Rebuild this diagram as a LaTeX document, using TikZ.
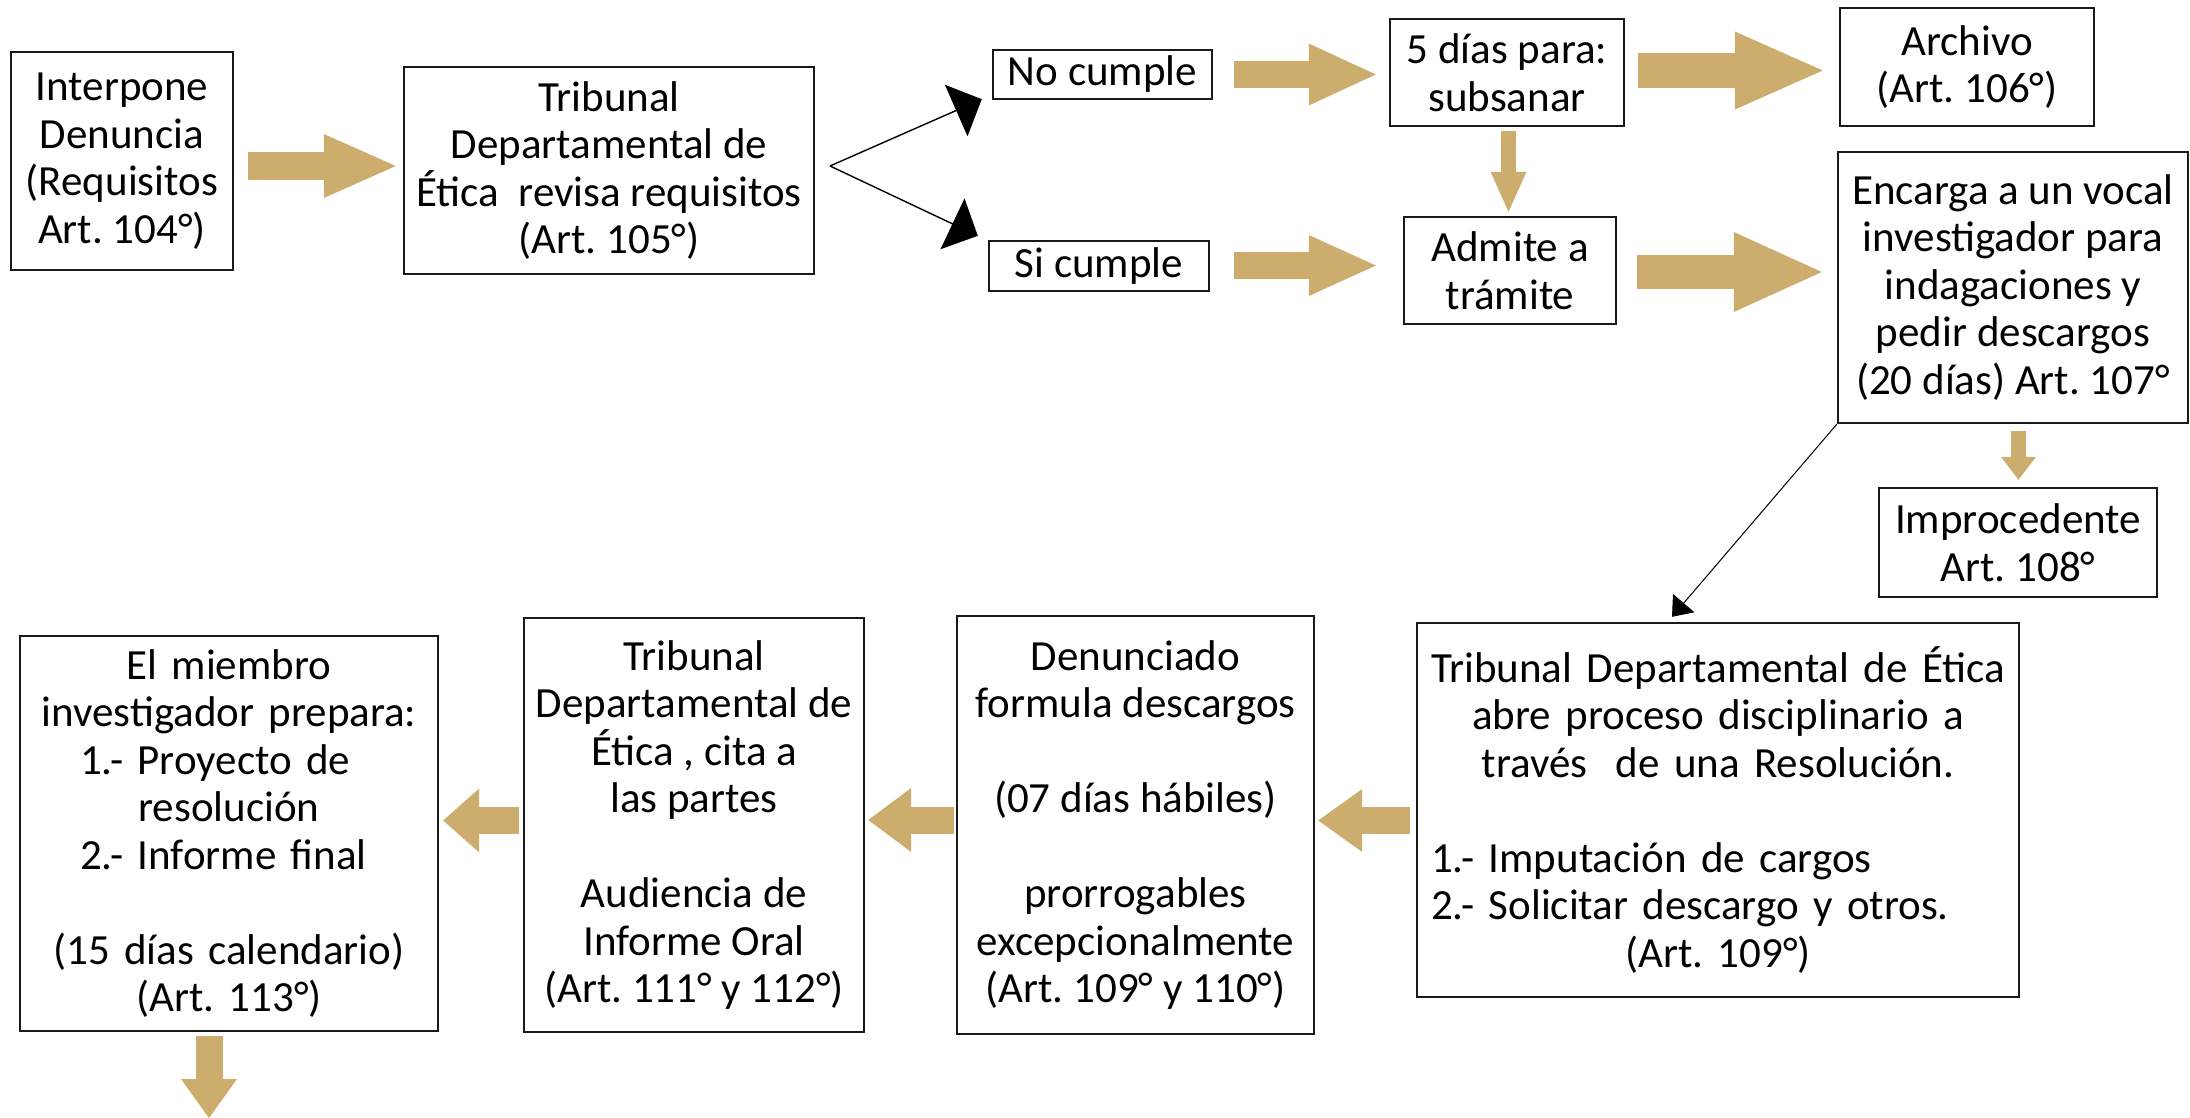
\documentclass[tikz,border=0pt]{standalone}
\usepackage{fontspec}
\setmainfont{Carlito}
\usetikzlibrary{arrows.meta,calc}
\definecolor{oro}{RGB}{205,173,110}
\newcommand{\centro}[1]{\makebox[\linewidth]{#1}}
\tikzset{
  caja/.style={draw=black!90,line width=1.2pt,inner sep=0pt,align=center,
    font=\frenchspacing\fontsize{21.5}{23.75}\selectfont},
  flecha/.style={-{Triangle[length=14pt,width=28pt]},line width=0.7pt},
  fina/.style={-{Triangle[length=9pt,width=14pt]},line width=0.5pt},
  gorda/.style n args={3}{draw=oro,line width=#1,-{Triangle[width=#2,length=#3,line width=0pt]}},
}
\begin{document}
\begin{tikzpicture}[x=0.5pt,y=-0.5pt]
  \useasboundingbox (0,0) rectangle (2190,1118);
  \node[caja,minimum width=111pt,minimum height=109pt] (interp) at (122,161)
    {Interpone\\Denuncia\\(Requisitos\\Art. 104°)};
  \node[caja,minimum width=205pt,minimum height=103.5pt] (revisa) at (609,170.5)
    {Tribunal\\Departamental de\\Ética~ revisa requisitos\\(Art. 105°)};
  \node[caja,minimum width=109.5pt,minimum height=24.5pt] (nocum) at (1102.5,74.5) {No cumple};
  \node[caja,minimum width=110pt,minimum height=25pt] (sicum) at (1099,266) {Si cumple};
  \node[caja,minimum width=117pt,minimum height=53.5pt] (dias) at (1507,72.5)
    {5 días para:\\subsanar};
  \node[caja,minimum width=106pt,minimum height=53.5pt] (admite) at (1510,270.5)
    {Admite a\\trámite};
  \node[caja,minimum width=127pt,minimum height=59pt] (archivo) at (1967,67)
    {Archivo\\(Art. 106°)};
  \node[caja,minimum width=175pt,minimum height=135.5pt] (encarga) at (2013,287.5)
    {Encarga a un vocal\\investigador para\\indagaciones y\\pedir descargos\\(20 días) Art. 107°};
  \node[caja,minimum width=139pt,minimum height=54.5pt] (improc) at (2018,542.5)
    {Improcedente\\Art. 108°};
  \node[caja,align=left,text width=287pt,minimum width=301pt,minimum height=187pt] (abre) at (1718,810)
    {\centro{Tribunal Departamental de Ética}\\
     \centro{abre proceso disciplinario a}\\
     \centro{través~ de una Resolución.}\\
     ~\\
     1.- Imputación de cargos\\
     2.- Solicitar descargo y otros.\\
     \centro{(Art. 109°)}};
  \node[caja,minimum width=178.5pt,minimum height=209pt] (denun) at (1135.5,825)
    {Denunciado\\formula descargos\\~\\(07 días hábiles)\\~\\prorrogables\\excepcionalmente\\(Art. 109° y 110°)};
  \node[caja,minimum width=170pt,minimum height=207pt] (cita) at (694,825)
    {Tribunal\\Departamental de\\Ética , cita a\\las partes\\~\\Audiencia de\\Informe Oral\\(Art. 111° y 112°)};
  \node[caja,align=left,text width=200pt,minimum width=209pt,minimum height=197.5pt] (miembro) at (229,833.5)
    {\centro{El miembro}\\
     \centro{investigador prepara:}\\
     \hspace*{25.5pt}1.- Proyecto de\\
     \centro{resolución}\\
     \hspace*{25.5pt}2.- Informe final\\
     ~\\
     \centro{(15 días calendario)}\\
     \centro{(Art. 113°)}};
  \coordinate (bif) at (830,166);
  \coordinate (sigue) at (209,1118);
  \draw[flecha] (bif) -- ($(nocum.south west)+(-10,-1)$);
  \draw[flecha] (bif) -- ($(sicum.north west)+(-10,-4)$);
  \draw[fina] (encarga.south west) -- ($(abre.north)+(-46,-5)$);
  \draw[gorda={14pt}{32pt}{36pt}] ($(interp.east)+(14,5)$) -- ($(revisa.west)+(-7,-4.5)$);
  \draw[gorda={13.5pt}{31pt}{33.5pt}] ($(nocum.east)+(21,0)$) -- ($(dias.west)+(-13,2)$);
  \draw[gorda={13.5pt}{30.5pt}{33.5pt}] ($(sicum.east)+(24,-0.5)$) -- ($(admite.west)+(-27,-5)$);
  \draw[gorda={17.5pt}{39pt}{44pt}] ($(dias.east)+(13,-2)$) -- ($(archivo.west)+(-16,3.5)$);
  \draw[gorda={17pt}{40pt}{44pt}] ($(admite.east)+(20,1.5)$) -- ($(encarga.west)+(-15,-15.5)$);
  \draw[gorda={7.5pt}{18pt}{20pt}] ($(dias.south)+(1.5,4)$) -- ($(admite.north)+(-1.5,-4)$);
  \draw[gorda={7.5pt}{17.5pt}{11.5pt}] ($(encarga.south)+(5.5,7)$) -- ($(improc.north)+(0.5,-7)$);
  \draw[gorda={13.5pt}{31.5pt}{22pt}] ($(abre.west)+(-6,10.5)$) -- ($(denun.east)+(3,-4.5)$);
  \draw[gorda={13.5pt}{32pt}{21.5pt}] ($(denun.west)+(-2,-5)$) -- ($(cita.east)+(3,-5)$);
  \draw[gorda={13.5pt}{32pt}{18pt}] ($(cita.west)+(-4,-4.5)$) -- ($(miembro.east)+(4,-13)$);
  \draw[gorda={13.5pt}{28pt}{19.5pt}] ($(miembro.south)+(-20,4)$) -- (sigue);
\end{tikzpicture}
\end{document}
